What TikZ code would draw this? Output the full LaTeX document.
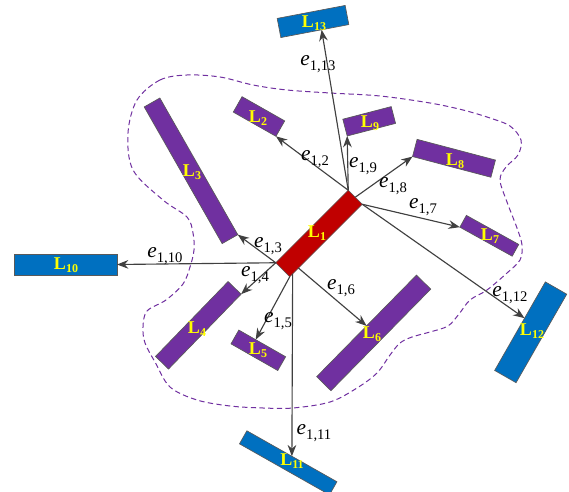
\documentclass[tikz,border=0pt]{standalone}
\usepackage{fontspec}
\setmainfont{Liberation Serif}
\usetikzlibrary{arrows.meta,calc}

\definecolor{barpurple}{HTML}{7030A0}
\definecolor{barblue}{HTML}{0070C0}
\definecolor{barred}{HTML}{C00000}
\definecolor{labyellow}{HTML}{FFFF00}
\definecolor{edgegray}{HTML}{404040}
\definecolor{bordergray}{HTML}{595959}

% edge weight e_{1,k}
\newcommand\edgelab[1]{\fontsize{16}{16}\selectfont\textit{e}\raisebox{-3.5pt}{\fontsize{11}{11}\selectfont #1}}
% bar name L_k
\newcommand\barlab[1]{\fontsize{13.5}{13.5}\selectfont\bfseries L\raisebox{-2pt}{\fontsize{9}{9}\selectfont #1}}

\begin{document}
\begin{tikzpicture}[x=0.75pt,y=-0.75pt,
  bar/.style n args={3}{draw=bordergray, line width=0.5pt, inner sep=0pt, outer sep=0pt,
    minimum width=#1, minimum height=#2, rotate=#3},
  barlabel/.style={text=labyellow, inner sep=0pt},
  link/.style={draw=edgegray, line width=0.85pt, -{Stealth[length=8.5pt,width=6.5pt]}},
  elabel/.style={inner sep=0pt, text=black},
  region/.style={draw=barpurple, line width=0.75pt, dash pattern=on 4pt off 2.5pt}]

\useasboundingbox (0,0) rectangle (569,492);

% dashed region
\draw[region] plot[smooth cycle, tension=0.55] coordinates {
  (137,100) (160,80) (187,75) (220,77) (253,85) (287,90) (330,93) (380,96)
  (430,103) (463,110) (490,118) (510,126) (521,140) (518,155) (506,167)
  (500,180) (507,202) (517,228) (522,245) (520,260) (507,273) (487,290)
  (470,300) (459,314) (448,326) (430,332) (412,337) (400,343) (390,355)
  (377,373) (357,388) (330,402) (293,408) (263,408) (230,406) (197,400)
  (170,387) (155,362) (145,343) (143,327) (147,311) (166,300) (183,284)
  (190,267) (194,250) (193,233) (187,217) (163,200) (133,170) (128,133)};

% bars
\node[bar={76.9pt}{14.85pt}{45}, fill=barred] (L1) at (319,233.5) {};
\node[bar={51.9pt}{14.6pt}{10.8}, fill=barblue] (L13) at (313,21.5) {};
\node[bar={77.25pt}{15.75pt}{0}, fill=barblue] (L10) at (65.5,264.5) {};
\node[bar={77.6pt}{11.25pt}{-29.5}, fill=barblue] (L11) at (288.2,462.8) {};
\node[bar={76.5pt}{18.5pt}{60.2}, fill=barblue] (L12) at (530.7,332.3) {};
\node[bar={118pt}{13.5pt}{-60.3}, fill=barpurple] (L3) at (191,170.8) {};
\node[bar={36.8pt}{13.3pt}{-29.6}, fill=barpurple] (L2) at (259,116.5) {};
\node[bar={37.5pt}{13pt}{14.6}, fill=barpurple] (L9) at (369.2,121.3) {};
\node[bar={60.8pt}{13.35pt}{-14.8}, fill=barpurple] (L8) at (454,158.3) {};
\node[bar={44.9pt}{10.1pt}{-29}, fill=barpurple] (L7) at (489.3,235.8) {};
\node[bar={78.2pt}{13.6pt}{45.9}, fill=barpurple] (L4) at (198.3,325.3) {};
\node[bar={40.4pt}{11.9pt}{-29.7}, fill=barpurple] (L5) at (258.3,350.3) {};
\node[bar={106.8pt}{15pt}{45.5}, fill=barpurple] (L6) at (373.7,332.9) {};

% bar names
\node[barlabel] (t1) at (317,233) {\barlab{1}};
\node[barlabel] (t13) at (314,23) {\barlab{13}};
\node[barlabel] (t10) at (66,265) {\barlab{10}};
\node[barlabel] (t11) at (292,461) {\barlab{11}};
\node[barlabel] (t12) at (532,331) {\barlab{12}};
\node[barlabel] (t3) at (192,172) {\barlab{3}};
\node[barlabel] (t2) at (258,118) {\barlab{2}};
\node[barlabel] (t9) at (370,123) {\barlab{9}};
\node[barlabel] (t8) at (455,161) {\barlab{8}};
\node[barlabel] (t7) at (490,236) {\barlab{7}};
\node[barlabel] (t4) at (197,329) {\barlab{4}};
\node[barlabel] (t5) at (258,350) {\barlab{5}};
\node[barlabel] (t6) at (372,334) {\barlab{6}};

% links from L1
\draw[link] (L1.north east) -- ($(L13.south west)!0.6!(L13.south east)$);
\draw[link] (L1.north east) -- (L2.south east);
\draw[link] (L1.north east) -- (L9.south west);
\draw[link] (L1.east) -- (L8.south west);
\draw[link] (L1.south east) -- (L7.south west);
\draw[link] (L1.south east) -- ($(L12.north west)!0.59!(L12.north east)$);
\draw[link] (L1.north west) -- (L3.north east);
\draw[link] (L1.north west) -- (L10.east);
\draw[link] (L1.north west) -- (L4.south east);
\draw[link] (L1.south west) -- ($(L5.north west)!0.36!(L5.north east)$);
\draw[link] ($(L1.south west)!0.04!(L1.south east)$) -- (L11.north);
\draw[link] ($(L1.south west)!0.12!(L1.south east)$) -- (L6.north);

% link weights
\node[elabel] (w13) at (318,64) {\edgelab{1,13}};
\node[elabel] (w2) at (315,159) {\edgelab{1,2}};
\node[elabel] (w9) at (363,166) {\edgelab{1,9}};
\node[elabel] (w8) at (393,186) {\edgelab{1,8}};
\node[elabel] (w7) at (423,207) {\edgelab{1,7}};
\node[elabel] (w12) at (510,295) {\edgelab{1,12}};
\node[elabel] (w3) at (268,246) {\edgelab{1,3}};
\node[elabel] (w10) at (165,256) {\edgelab{1,10}};
\node[elabel] (w4) at (255,275) {\edgelab{1,4}};
\node[elabel] (w5) at (278,321) {\edgelab{1,5}};
\node[elabel] (w6) at (341,288) {\edgelab{1,6}};
\node[elabel] (w11) at (314,433) {\edgelab{1,11}};
\end{tikzpicture}
\end{document}
